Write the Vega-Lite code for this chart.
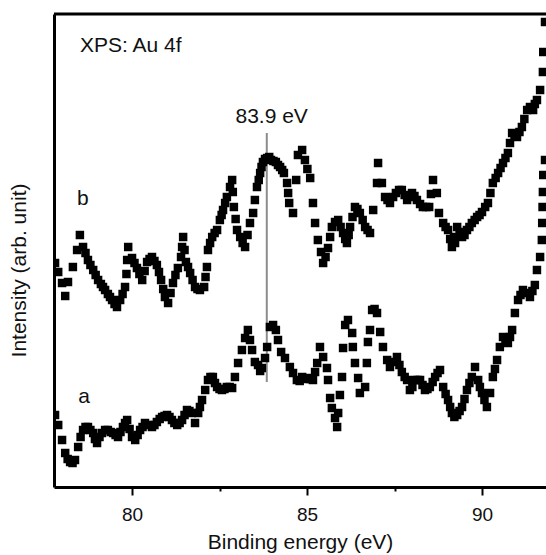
{
  "$schema": "https://vega.github.io/schema/vega-lite/v6.json",
  "width": 498,
  "height": 473,
  "autosize": {"type": "none"},
  "padding": {"left": 54, "top": 14, "right": 0, "bottom": 68},
  "background": "white",
  "config": {
    "view": {"stroke": null},
    "font": "Liberation Sans"
  },
  "datasets": {
    "spec": [
      {"e": 77.80, "i": 224, "s": "b"}, {"e": 78.00, "i": 204, "s": "b"}, {"e": 78.09, "i": 191, "s": "b"},
      {"e": 78.31, "i": 220, "s": "b"}, {"e": 78.43, "i": 237, "s": "b"}, {"e": 78.51, "i": 252, "s": "b"},
      {"e": 78.60, "i": 240, "s": "b"}, {"e": 78.74, "i": 227, "s": "b"}, {"e": 78.89, "i": 217, "s": "b"},
      {"e": 79.03, "i": 207, "s": "b"}, {"e": 79.23, "i": 197, "s": "b"}, {"e": 79.43, "i": 187, "s": "b"},
      {"e": 79.57, "i": 180, "s": "b"}, {"e": 79.66, "i": 187, "s": "b"}, {"e": 79.80, "i": 200, "s": "b"},
      {"e": 79.89, "i": 240, "s": "b"}, {"e": 80.00, "i": 229, "s": "b"}, {"e": 80.14, "i": 219, "s": "b"},
      {"e": 80.29, "i": 207, "s": "b"}, {"e": 80.43, "i": 225, "s": "b"}, {"e": 80.57, "i": 230, "s": "b"},
      {"e": 80.71, "i": 222, "s": "b"}, {"e": 80.83, "i": 207, "s": "b"}, {"e": 80.94, "i": 190, "s": "b"},
      {"e": 81.03, "i": 184, "s": "b"}, {"e": 81.17, "i": 204, "s": "b"}, {"e": 81.31, "i": 219, "s": "b"},
      {"e": 81.40, "i": 230, "s": "b"}, {"e": 81.46, "i": 250, "s": "b"}, {"e": 81.54, "i": 225, "s": "b"},
      {"e": 81.66, "i": 214, "s": "b"}, {"e": 81.80, "i": 200, "s": "b"}, {"e": 81.94, "i": 197, "s": "b"},
      {"e": 82.06, "i": 200, "s": "b"}, {"e": 82.14, "i": 220, "s": "b"}, {"e": 82.17, "i": 237, "s": "b"},
      {"e": 82.29, "i": 250, "s": "b"}, {"e": 82.43, "i": 257, "s": "b"}, {"e": 82.51, "i": 267, "s": "b"},
      {"e": 82.60, "i": 277, "s": "b"}, {"e": 82.71, "i": 290, "s": "b"}, {"e": 82.80, "i": 300, "s": "b"},
      {"e": 82.86, "i": 307, "s": "b"}, {"e": 82.91, "i": 280, "s": "b"}, {"e": 83.00, "i": 257, "s": "b"},
      {"e": 83.09, "i": 250, "s": "b"}, {"e": 83.23, "i": 240, "s": "b"}, {"e": 83.37, "i": 264, "s": "b"},
      {"e": 83.46, "i": 274, "s": "b"}, {"e": 83.51, "i": 287, "s": "b"}, {"e": 83.57, "i": 300, "s": "b"},
      {"e": 83.66, "i": 314, "s": "b"}, {"e": 83.74, "i": 325, "s": "b"}, {"e": 83.86, "i": 329, "s": "b"},
      {"e": 83.97, "i": 327, "s": "b"}, {"e": 84.11, "i": 325, "s": "b"}, {"e": 84.23, "i": 320, "s": "b"},
      {"e": 84.34, "i": 314, "s": "b"}, {"e": 84.43, "i": 304, "s": "b"}, {"e": 84.49, "i": 284, "s": "b"},
      {"e": 84.60, "i": 274, "s": "b"}, {"e": 84.69, "i": 307, "s": "b"}, {"e": 84.74, "i": 332, "s": "b"},
      {"e": 84.86, "i": 337, "s": "b"}, {"e": 84.94, "i": 327, "s": "b"}, {"e": 85.09, "i": 309, "s": "b"},
      {"e": 85.17, "i": 284, "s": "b"}, {"e": 85.23, "i": 264, "s": "b"}, {"e": 85.31, "i": 247, "s": "b"},
      {"e": 85.40, "i": 235, "s": "b"}, {"e": 85.46, "i": 224, "s": "b"}, {"e": 85.60, "i": 239, "s": "b"},
      {"e": 85.71, "i": 260, "s": "b"}, {"e": 85.89, "i": 267, "s": "b"}, {"e": 86.03, "i": 254, "s": "b"},
      {"e": 86.14, "i": 244, "s": "b"}, {"e": 86.23, "i": 260, "s": "b"}, {"e": 86.37, "i": 280, "s": "b"},
      {"e": 86.51, "i": 274, "s": "b"}, {"e": 86.66, "i": 260, "s": "b"}, {"e": 86.80, "i": 254, "s": "b"},
      {"e": 86.89, "i": 277, "s": "b"}, {"e": 87.00, "i": 304, "s": "b"}, {"e": 87.03, "i": 324, "s": "b"},
      {"e": 87.14, "i": 304, "s": "b"}, {"e": 87.23, "i": 290, "s": "b"}, {"e": 87.37, "i": 284, "s": "b"},
      {"e": 87.54, "i": 294, "s": "b"}, {"e": 87.71, "i": 297, "s": "b"}, {"e": 87.86, "i": 287, "s": "b"},
      {"e": 88.00, "i": 294, "s": "b"}, {"e": 88.14, "i": 287, "s": "b"}, {"e": 88.31, "i": 280, "s": "b"},
      {"e": 88.49, "i": 280, "s": "b"}, {"e": 88.60, "i": 307, "s": "b"}, {"e": 88.71, "i": 294, "s": "b"},
      {"e": 88.77, "i": 274, "s": "b"}, {"e": 88.89, "i": 264, "s": "b"}, {"e": 89.03, "i": 257, "s": "b"},
      {"e": 89.14, "i": 240, "s": "b"}, {"e": 89.29, "i": 260, "s": "b"}, {"e": 89.43, "i": 250, "s": "b"},
      {"e": 89.57, "i": 257, "s": "b"}, {"e": 89.71, "i": 264, "s": "b"}, {"e": 89.86, "i": 270, "s": "b"},
      {"e": 90.00, "i": 275, "s": "b"}, {"e": 90.17, "i": 284, "s": "b"}, {"e": 90.31, "i": 304, "s": "b"},
      {"e": 90.46, "i": 314, "s": "b"}, {"e": 90.60, "i": 324, "s": "b"}, {"e": 90.74, "i": 334, "s": "b"},
      {"e": 90.86, "i": 354, "s": "b"}, {"e": 91.00, "i": 350, "s": "b"}, {"e": 91.14, "i": 360, "s": "b"},
      {"e": 91.29, "i": 377, "s": "b"}, {"e": 91.46, "i": 377, "s": "b"}, {"e": 91.57, "i": 387, "s": "b"},
      {"e": 91.66, "i": 397, "s": "b"}, {"e": 91.74, "i": 415, "s": "b"}, {"e": 91.75, "i": 435, "s": "b"},
      {"e": 91.80, "i": 465, "s": "b"},
      {"e": 77.89, "i": 215, "s": "b"}, {"e": 78.17, "i": 205, "s": "b"}, {"e": 78.67, "i": 234, "s": "b"},
      {"e": 78.81, "i": 222, "s": "b"}, {"e": 78.96, "i": 212, "s": "b"}, {"e": 79.11, "i": 203, "s": "b"},
      {"e": 79.17, "i": 200, "s": "b"}, {"e": 79.31, "i": 193, "s": "b"}, {"e": 79.37, "i": 190, "s": "b"},
      {"e": 79.50, "i": 183, "s": "b"}, {"e": 79.73, "i": 193, "s": "b"}, {"e": 79.84, "i": 213, "s": "b"},
      {"e": 79.86, "i": 227, "s": "b"}, {"e": 80.07, "i": 224, "s": "b"}, {"e": 80.21, "i": 213, "s": "b"},
      {"e": 80.36, "i": 216, "s": "b"}, {"e": 80.50, "i": 228, "s": "b"}, {"e": 80.64, "i": 226, "s": "b"},
      {"e": 80.77, "i": 215, "s": "b"}, {"e": 80.89, "i": 198, "s": "b"}, {"e": 81.10, "i": 194, "s": "b"},
      {"e": 81.24, "i": 212, "s": "b"}, {"e": 81.43, "i": 240, "s": "b"}, {"e": 81.50, "i": 237, "s": "b"},
      {"e": 81.60, "i": 220, "s": "b"}, {"e": 81.73, "i": 207, "s": "b"}, {"e": 81.87, "i": 198, "s": "b"},
      {"e": 82.10, "i": 210, "s": "b"}, {"e": 82.23, "i": 244, "s": "b"}, {"e": 82.36, "i": 254, "s": "b"},
      {"e": 82.56, "i": 272, "s": "b"}, {"e": 82.66, "i": 284, "s": "b"}, {"e": 82.88, "i": 295, "s": "b"},
      {"e": 82.96, "i": 268, "s": "b"}, {"e": 83.16, "i": 244, "s": "b"}, {"e": 83.30, "i": 252, "s": "b"},
      {"e": 83.62, "i": 307, "s": "b"}, {"e": 83.70, "i": 320, "s": "b"}, {"e": 83.80, "i": 328, "s": "b"},
      {"e": 83.92, "i": 330, "s": "b"}, {"e": 84.04, "i": 326, "s": "b"}, {"e": 84.17, "i": 322, "s": "b"},
      {"e": 84.29, "i": 317, "s": "b"}, {"e": 84.46, "i": 294, "s": "b"}, {"e": 85.01, "i": 318, "s": "b"},
      {"e": 85.53, "i": 230, "s": "b"}, {"e": 85.66, "i": 250, "s": "b"}, {"e": 85.80, "i": 265, "s": "b"},
      {"e": 85.96, "i": 260, "s": "b"}, {"e": 86.09, "i": 248, "s": "b"}, {"e": 86.19, "i": 252, "s": "b"},
      {"e": 86.30, "i": 270, "s": "b"}, {"e": 86.44, "i": 278, "s": "b"}, {"e": 86.59, "i": 267, "s": "b"},
      {"e": 86.73, "i": 257, "s": "b"}, {"e": 87.30, "i": 287, "s": "b"}, {"e": 87.46, "i": 290, "s": "b"},
      {"e": 87.63, "i": 297, "s": "b"}, {"e": 87.79, "i": 292, "s": "b"}, {"e": 87.93, "i": 290, "s": "b"},
      {"e": 88.07, "i": 291, "s": "b"}, {"e": 88.23, "i": 283, "s": "b"}, {"e": 88.40, "i": 280, "s": "b"},
      {"e": 88.54, "i": 293, "s": "b"}, {"e": 88.96, "i": 260, "s": "b"}, {"e": 89.09, "i": 248, "s": "b"},
      {"e": 89.20, "i": 250, "s": "b"}, {"e": 89.23, "i": 244, "s": "b"}, {"e": 89.36, "i": 255, "s": "b"},
      {"e": 89.50, "i": 252, "s": "b"}, {"e": 89.64, "i": 260, "s": "b"}, {"e": 89.79, "i": 267, "s": "b"},
      {"e": 89.93, "i": 272, "s": "b"}, {"e": 90.09, "i": 280, "s": "b"}, {"e": 90.24, "i": 294, "s": "b"},
      {"e": 90.39, "i": 309, "s": "b"}, {"e": 90.53, "i": 319, "s": "b"}, {"e": 90.67, "i": 329, "s": "b"},
      {"e": 90.80, "i": 344, "s": "b"}, {"e": 90.93, "i": 352, "s": "b"}, {"e": 91.07, "i": 355, "s": "b"},
      {"e": 91.21, "i": 368, "s": "b"}, {"e": 91.37, "i": 380, "s": "b"}, {"e": 91.51, "i": 383, "s": "b"},
      {"e": 77.80, "i": 72, "s": "a"}, {"e": 77.89, "i": 62, "s": "a"}, {"e": 78.00, "i": 47, "s": "a"},
      {"e": 78.09, "i": 34, "s": "a"}, {"e": 78.23, "i": 25, "s": "a"}, {"e": 78.37, "i": 27, "s": "a"},
      {"e": 78.46, "i": 40, "s": "a"}, {"e": 78.60, "i": 57, "s": "a"}, {"e": 78.74, "i": 60, "s": "a"},
      {"e": 78.89, "i": 54, "s": "a"}, {"e": 79.00, "i": 44, "s": "a"}, {"e": 79.14, "i": 54, "s": "a"},
      {"e": 79.31, "i": 57, "s": "a"}, {"e": 79.46, "i": 54, "s": "a"}, {"e": 79.60, "i": 50, "s": "a"},
      {"e": 79.74, "i": 60, "s": "a"}, {"e": 79.86, "i": 67, "s": "a"}, {"e": 80.00, "i": 50, "s": "a"},
      {"e": 80.09, "i": 47, "s": "a"}, {"e": 80.23, "i": 57, "s": "a"}, {"e": 80.37, "i": 64, "s": "a"},
      {"e": 80.57, "i": 60, "s": "a"}, {"e": 80.71, "i": 65, "s": "a"}, {"e": 80.86, "i": 70, "s": "a"},
      {"e": 81.00, "i": 72, "s": "a"}, {"e": 81.14, "i": 67, "s": "a"}, {"e": 81.29, "i": 62, "s": "a"},
      {"e": 81.43, "i": 67, "s": "a"}, {"e": 81.57, "i": 77, "s": "a"}, {"e": 81.71, "i": 74, "s": "a"},
      {"e": 81.80, "i": 64, "s": "a"}, {"e": 81.89, "i": 74, "s": "a"}, {"e": 82.00, "i": 87, "s": "a"},
      {"e": 82.09, "i": 97, "s": "a"}, {"e": 82.17, "i": 107, "s": "a"}, {"e": 82.31, "i": 110, "s": "a"},
      {"e": 82.43, "i": 100, "s": "a"}, {"e": 82.57, "i": 97, "s": "a"}, {"e": 82.71, "i": 100, "s": "a"},
      {"e": 82.86, "i": 99, "s": "a"}, {"e": 82.94, "i": 110, "s": "a"}, {"e": 83.03, "i": 124, "s": "a"},
      {"e": 83.14, "i": 137, "s": "a"}, {"e": 83.23, "i": 149, "s": "a"}, {"e": 83.31, "i": 157, "s": "a"},
      {"e": 83.43, "i": 137, "s": "a"}, {"e": 83.51, "i": 125, "s": "a"}, {"e": 83.71, "i": 119, "s": "a"},
      {"e": 83.80, "i": 129, "s": "a"}, {"e": 83.86, "i": 140, "s": "a"}, {"e": 83.94, "i": 160, "s": "a"},
      {"e": 84.11, "i": 157, "s": "a"}, {"e": 84.17, "i": 147, "s": "a"}, {"e": 84.26, "i": 135, "s": "a"},
      {"e": 84.37, "i": 129, "s": "a"}, {"e": 84.51, "i": 120, "s": "a"}, {"e": 84.71, "i": 107, "s": "a"},
      {"e": 84.86, "i": 110, "s": "a"}, {"e": 85.03, "i": 109, "s": "a"}, {"e": 85.17, "i": 107, "s": "a"},
      {"e": 85.29, "i": 124, "s": "a"}, {"e": 85.37, "i": 140, "s": "a"}, {"e": 85.46, "i": 130, "s": "a"},
      {"e": 85.57, "i": 119, "s": "a"}, {"e": 85.60, "i": 107, "s": "a"}, {"e": 85.66, "i": 89, "s": "a"},
      {"e": 85.71, "i": 79, "s": "a"}, {"e": 85.80, "i": 69, "s": "a"}, {"e": 85.86, "i": 60, "s": "a"},
      {"e": 85.89, "i": 74, "s": "a"}, {"e": 85.94, "i": 92, "s": "a"}, {"e": 86.00, "i": 110, "s": "a"},
      {"e": 86.03, "i": 139, "s": "a"}, {"e": 86.09, "i": 162, "s": "a"}, {"e": 86.17, "i": 167, "s": "a"},
      {"e": 86.29, "i": 154, "s": "a"}, {"e": 86.31, "i": 140, "s": "a"}, {"e": 86.37, "i": 124, "s": "a"},
      {"e": 86.46, "i": 109, "s": "a"}, {"e": 86.51, "i": 94, "s": "a"}, {"e": 86.66, "i": 100, "s": "a"},
      {"e": 86.71, "i": 124, "s": "a"}, {"e": 86.74, "i": 145, "s": "a"}, {"e": 86.80, "i": 157, "s": "a"},
      {"e": 86.86, "i": 177, "s": "a"}, {"e": 87.00, "i": 174, "s": "a"}, {"e": 87.09, "i": 155, "s": "a"},
      {"e": 87.17, "i": 140, "s": "a"}, {"e": 87.29, "i": 127, "s": "a"}, {"e": 87.37, "i": 120, "s": "a"},
      {"e": 87.57, "i": 130, "s": "a"}, {"e": 87.71, "i": 115, "s": "a"}, {"e": 87.86, "i": 107, "s": "a"},
      {"e": 87.94, "i": 97, "s": "a"}, {"e": 88.09, "i": 107, "s": "a"}, {"e": 88.23, "i": 107, "s": "a"},
      {"e": 88.37, "i": 97, "s": "a"}, {"e": 88.51, "i": 100, "s": "a"}, {"e": 88.66, "i": 110, "s": "a"},
      {"e": 88.80, "i": 117, "s": "a"}, {"e": 88.89, "i": 100, "s": "a"}, {"e": 89.03, "i": 87, "s": "a"},
      {"e": 89.14, "i": 74, "s": "a"}, {"e": 89.29, "i": 72, "s": "a"}, {"e": 89.43, "i": 80, "s": "a"},
      {"e": 89.57, "i": 97, "s": "a"}, {"e": 89.71, "i": 110, "s": "a"}, {"e": 89.80, "i": 120, "s": "a"},
      {"e": 89.89, "i": 107, "s": "a"}, {"e": 90.00, "i": 94, "s": "a"}, {"e": 90.14, "i": 80, "s": "a"},
      {"e": 90.23, "i": 94, "s": "a"}, {"e": 90.31, "i": 110, "s": "a"}, {"e": 90.43, "i": 127, "s": "a"},
      {"e": 90.51, "i": 140, "s": "a"}, {"e": 90.60, "i": 150, "s": "a"}, {"e": 90.74, "i": 144, "s": "a"},
      {"e": 90.86, "i": 157, "s": "a"}, {"e": 90.94, "i": 174, "s": "a"}, {"e": 91.03, "i": 187, "s": "a"},
      {"e": 91.17, "i": 197, "s": "a"}, {"e": 91.37, "i": 190, "s": "a"}, {"e": 91.51, "i": 202, "s": "a"},
      {"e": 91.57, "i": 217, "s": "a"}, {"e": 91.66, "i": 230, "s": "a"}, {"e": 91.71, "i": 247, "s": "a"},
      {"e": 91.72, "i": 264, "s": "a"}, {"e": 91.73, "i": 280, "s": "a"}, {"e": 91.74, "i": 295, "s": "a"},
      {"e": 91.75, "i": 312, "s": "a"}, {"e": 91.80, "i": 327, "s": "a"},
      {"e": 78.16, "i": 28, "s": "a"}, {"e": 78.30, "i": 24, "s": "a"}, {"e": 78.53, "i": 50, "s": "a"},
      {"e": 78.67, "i": 60, "s": "a"}, {"e": 78.81, "i": 57, "s": "a"}, {"e": 78.94, "i": 48, "s": "a"},
      {"e": 79.07, "i": 50, "s": "a"}, {"e": 79.23, "i": 57, "s": "a"}, {"e": 79.39, "i": 55, "s": "a"},
      {"e": 79.53, "i": 52, "s": "a"}, {"e": 79.67, "i": 55, "s": "a"}, {"e": 79.80, "i": 64, "s": "a"},
      {"e": 79.93, "i": 58, "s": "a"}, {"e": 80.16, "i": 52, "s": "a"}, {"e": 80.30, "i": 60, "s": "a"},
      {"e": 80.47, "i": 62, "s": "a"}, {"e": 80.64, "i": 62, "s": "a"}, {"e": 80.79, "i": 68, "s": "a"},
      {"e": 80.93, "i": 71, "s": "a"}, {"e": 81.07, "i": 70, "s": "a"}, {"e": 81.21, "i": 64, "s": "a"},
      {"e": 81.36, "i": 64, "s": "a"}, {"e": 81.50, "i": 72, "s": "a"}, {"e": 81.64, "i": 76, "s": "a"},
      {"e": 81.94, "i": 80, "s": "a"}, {"e": 82.24, "i": 110, "s": "a"}, {"e": 82.37, "i": 104, "s": "a"},
      {"e": 82.50, "i": 98, "s": "a"}, {"e": 82.64, "i": 98, "s": "a"}, {"e": 82.79, "i": 100, "s": "a"},
      {"e": 83.37, "i": 147, "s": "a"}, {"e": 83.60, "i": 122, "s": "a"}, {"e": 83.66, "i": 116, "s": "a"},
      {"e": 84.03, "i": 162, "s": "a"}, {"e": 84.60, "i": 114, "s": "a"}, {"e": 84.79, "i": 106, "s": "a"},
      {"e": 84.94, "i": 108, "s": "a"}, {"e": 85.10, "i": 108, "s": "a"}, {"e": 85.23, "i": 115, "s": "a"},
      {"e": 86.93, "i": 178, "s": "a"}, {"e": 87.46, "i": 125, "s": "a"}, {"e": 87.64, "i": 122, "s": "a"},
      {"e": 87.79, "i": 110, "s": "a"}, {"e": 88.01, "i": 100, "s": "a"}, {"e": 88.16, "i": 107, "s": "a"},
      {"e": 88.30, "i": 102, "s": "a"}, {"e": 88.44, "i": 98, "s": "a"}, {"e": 88.59, "i": 105, "s": "a"},
      {"e": 88.73, "i": 114, "s": "a"}, {"e": 88.96, "i": 93, "s": "a"}, {"e": 89.09, "i": 80, "s": "a"},
      {"e": 89.21, "i": 70, "s": "a"}, {"e": 89.36, "i": 76, "s": "a"}, {"e": 89.50, "i": 88, "s": "a"},
      {"e": 89.64, "i": 104, "s": "a"}, {"e": 89.94, "i": 100, "s": "a"}, {"e": 90.07, "i": 87, "s": "a"},
      {"e": 90.37, "i": 118, "s": "a"}, {"e": 90.67, "i": 147, "s": "a"}, {"e": 90.80, "i": 150, "s": "a"},
      {"e": 91.10, "i": 192, "s": "a"}, {"e": 91.27, "i": 194, "s": "a"}, {"e": 91.44, "i": 196, "s": "a"}
    ],
    "marker": [{"e": 83.85, "i1": 105, "i2": 354}],
    "notes": [
      {"e": 78.51, "i": 435, "t": "XPS: Au 4f"},
      {"e": 78.43, "i": 282, "t": "b"},
      {"e": 78.46, "i": 84, "t": "a"}
    ],
    "peak": [{"e": 83.99, "i": 364, "t": "83.9 eV"}],
    "frame": [{"top": 473}]
  },
  "layer": [
    {
      "data": {"name": "marker"},
      "mark": {"type": "rule", "color": "#8c8c8c", "strokeWidth": 2},
      "encoding": {
        "x": {"field": "e", "type": "quantitative", "scale": {"domain": [77.77, 92.0], "nice": false, "zero": false},
          "axis": {
            "title": "Binding energy (eV)",
            "values": [80, 82.5, 85, 87.5, 90],
            "labelExpr": "datum.value % 5 === 0 ? format(datum.value, 'd') : ''",
            "domain": true,
            "domainColor": "black",
            "domainWidth": 3,
            "grid": false,
            "tickColor": "black",
            "tickWidth": 2,
            "tickSize": {"condition": {"test": "datum.value % 5 === 0", "value": 8}, "value": 4},
            "labelFont": "Liberation Sans",
            "labelFontSize": 19,
            "labelColor": "#111",
            "labelBaseline": "alphabetic",
            "labelPadding": 25,
            "titleFont": "Liberation Sans",
            "titleFontSize": 21,
            "titleFontWeight": "normal",
            "titleColor": "#111",
            "titleBaseline": "alphabetic",
            "titleY": 61,
            "titleX": 246
          }
        },
        "y": {"field": "i1", "type": "quantitative", "scale": {"domain": [0, 473], "nice": false, "zero": false},
          "axis": {
            "title": "Intensity (arb. unit)",
            "domain": true,
            "domainColor": "black",
            "domainWidth": 3,
            "ticks": false,
            "labels": false,
            "grid": false,
            "titleFont": "Liberation Sans",
            "titleFontSize": 21,
            "titleFontWeight": "normal",
            "titleColor": "#111",
            "titleAngle": 270,
            "titleBaseline": "alphabetic",
            "titleAnchor": "middle",
            "titleX": -29,
            "titleY": 256
          }
        },
        "y2": {"field": "i2"}
      }
    },
    {
      "data": {"name": "frame"},
      "mark": {"type": "rule", "color": "black", "strokeWidth": 3},
      "encoding": {
        "y": {"field": "top", "type": "quantitative"}
      }
    },
    {
      "data": {"name": "spec"},
      "mark": {"type": "point", "shape": "square", "filled": true, "size": 72, "color": "black", "opacity": 1, "clip": true},
      "encoding": {
        "x": {"field": "e", "type": "quantitative"},
        "y": {"field": "i", "type": "quantitative"}
      }
    },
    {
      "data": {"name": "notes"},
      "mark": {"type": "text", "align": "left", "baseline": "alphabetic", "font": "Liberation Sans", "fontSize": 21, "color": "#111"},
      "encoding": {
        "x": {"field": "e", "type": "quantitative"},
        "y": {"field": "i", "type": "quantitative"},
        "text": {"field": "t"}
      }
    },
    {
      "data": {"name": "peak"},
      "mark": {"type": "text", "align": "center", "baseline": "alphabetic", "font": "Liberation Sans", "fontSize": 21, "color": "#111"},
      "encoding": {
        "x": {"field": "e", "type": "quantitative"},
        "y": {"field": "i", "type": "quantitative"},
        "text": {"field": "t"}
      }
    }
  ]
}
